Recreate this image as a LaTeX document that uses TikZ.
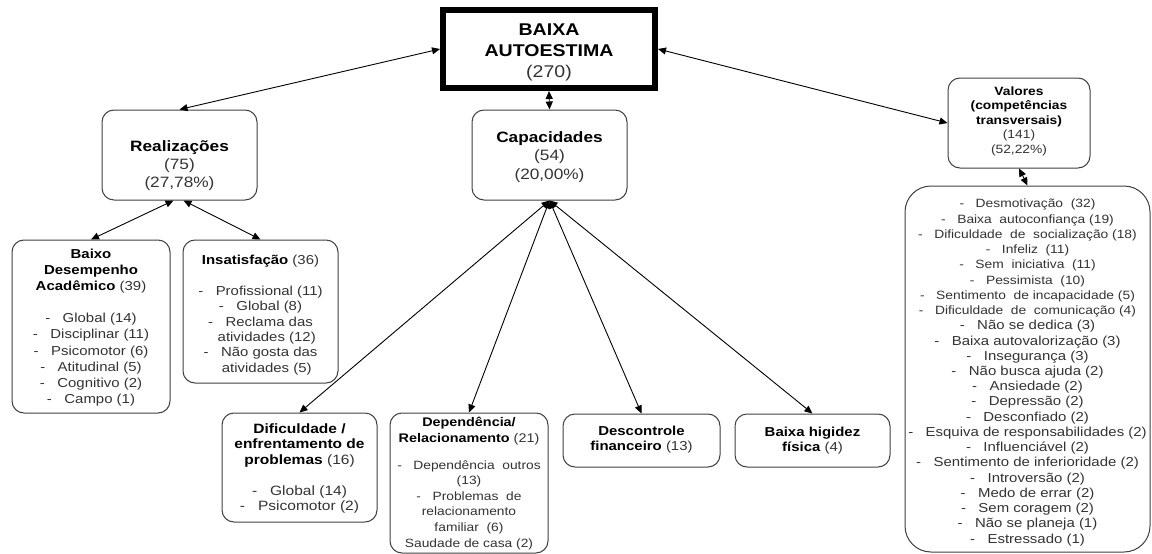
\documentclass[tikz,border=0pt]{standalone}
\usepackage{fontspec}
\setmainfont[FakeStretch=1.15]{Liberation Sans}
\usetikzlibrary{arrows.meta}
\tikzset{
 box/.style={draw=black!75, line width=1pt, rounded corners=12pt, fill=white, inner sep=0pt},
 bigbox/.style={box, rounded corners=26pt},
 txt/.style={align=center, inner sep=0pt, text=black!80},
 link/.style={line width=0.9pt, draw=black, {Triangle[length=8pt,width=7pt]}-{Triangle[length=8pt,width=7pt]}},
}
\newcommand\bb[1]{\textbf{\color{black}#1}}
\newcommand\smf{\fontsize{12}{15.23}\selectfont}
\newcommand\bgf{\fontsize{13}{15.23}\selectfont}
\begin{document}
\begin{tikzpicture}[x=1pt,y=-1pt]
\useasboundingbox (0,0) rectangle (1152,554);
% top
\node[draw=black, line width=6pt, minimum width=212pt, minimum height=78pt, inner sep=0pt, fill=white] (top) at (549,49) {};
\node[txt, font=\fontsize{17}{21}\selectfont] (topT) at (549,52) {\bb{BAIXA}\\\bb{AUTOESTIMA}\\(270)};
% level 1
\node[box, minimum width=155pt, minimum height=90pt] (real) at (179.5,155) {};
\node[txt, font=\fontsize{15}{18}\selectfont] (realT) at (179.5,166) {\bb{Realizações}\\(75)\\(27,78\%)};
\node[box, minimum width=155pt, minimum height=90pt] (cap) at (549.5,155) {};
\node[txt, font=\fontsize{15}{18.5}\selectfont] (capT) at (549.5,157) {\bb{Capacidades}\\(54)\\(20,00\%)};
\node[box, minimum width=142pt, minimum height=90pt] (val) at (1019,123) {};
\node[txt, font=\fontsize{12}{14.5}\selectfont] (valT) at (1019,121) {\bb{Valores}\\\bb{(competências}\\\bb{transversais)}\\(141)\\(52,22\%)};
% left branch
\node[box, minimum width=158pt, minimum height=173pt] (baixo) at (91,326.5) {};
\node[txt, font=\fontsize{13}{16.1}\selectfont] (baixoT) at (91,327.5) {\bb{Baixo}\\\bb{Desempenho}\\\bb{Acadêmico} (39)\\[16.1pt]-\ \ \ Global (14)\\-\ \ \ Disciplinar (11)\\-\ \ \ Psicomotor (6)\\-\ \ \ Atitudinal (5)\\-\ \ \ Cognitivo (2)\\-\ \ \ Campo (1)};
\node[box, minimum width=155pt, minimum height=143pt] (insat) at (260.5,311.5) {};
\node[txt, font=\fontsize{13}{15.4}\selectfont] (insatT) at (260.5,315) {\bb{Insatisfação} (36)\\[15.4pt]-\ \ \ Profissional (11)\\-\ \ \ Global (8)\\-\ \ \ Reclama das\\\ \ \ atividades (12)\\-\ \ \ Não gosta das\\\ \ \ atividades (5)};
% capacidades children
\node[box, minimum width=155pt, minimum height=109pt] (dif) at (299.5,467.5) {};
\node[txt, font=\fontsize{13.5}{15.4}\selectfont] (difT) at (299.5,468.5) {\bb{Dificuldade /}\\\bb{enfrentamento de}\\\bb{problemas} (16)\\[15.4pt]-\ \ \ Global (14)\\-\ \ \ Psicomotor (2)};
\node[box, minimum width=158pt, minimum height=140pt] (dep) at (469,483) {};
\node[txt, font=\fontsize{12.5}{15.6}\selectfont] (depT) at (469,483.5) {\bb{Dependência/}\\\bb{Relacionamento} (21)\\[11pt]{\fontsize{12}{15.4}\selectfont -\ \ \ Dependência\ \ outros}\\{\fontsize{12}{15.4}\selectfont (13)}\\{\fontsize{12}{15.4}\selectfont -\ \ \ Problemas\ \ de}\\{\fontsize{12}{15.4}\selectfont relacionamento}\\{\fontsize{12}{15.4}\selectfont familiar\ \ (6)}\\{\fontsize{12}{15.4}\selectfont Saudade\ de\ casa (2)}};
\node[box, minimum width=157pt, minimum height=53pt] (desc) at (641.5,440.5) {};
\node[txt, font=\fontsize{13}{15}\selectfont] (descT) at (641.5,439.5) {\bb{Descontrole}\\\bb{financeiro} (13)};
\node[box, minimum width=155pt, minimum height=53pt] (hig) at (812.5,440.5) {};
\node[txt, font=\fontsize{13}{15}\selectfont] (higT) at (812.5,440.5) {\bb{Baixa higidez}\\\bb{física} (4)};
% valores list
\node[bigbox, minimum width=245pt, minimum height=366pt] (list) at (1027.5,369) {};
\node[txt, font=\bgf] (listT) at (1027.5,372.5) {%
{\smf -\ \ \ Desmotivação\ \ (32)}\\
{\smf -\ \ \ Baixa\ \ autoconfiança (19)}\\
{\smf -\ \ \ Dificuldade\ \ de\ \ socialização (18)}\\
{\smf -\ \ \ Infeliz\ \ (11)}\\
{\smf -\ \ \ Sem\ \ iniciativa\ \ (11)}\\
{\smf -\ \ \ Pessimista\ \ (10)}\\
{\smf -\ \ \ Sentimento\ \ de incapacidade (5)}\\
{\smf -\ \ \ Dificuldade\ \ de\ \ comunicação (4)}\\
-\ \ \ Não se dedica (3)\\
-\ \ \ Baixa autovalorização (3)\\
-\ \ \ Insegurança (3)\\
-\ \ \ Não busca ajuda (2)\\
-\ \ \ Ansiedade (2)\\
-\ \ \ Depressão (2)\\
-\ \ \ Desconfiado (2)\\
-\ \ \ Esquiva de responsabilidades (2)\\
-\ \ \ Influenciável (2)\\
-\ \ \ Sentimento de inferioridade (2)\\
-\ \ \ Introversão (2)\\
-\ \ \ Medo de errar (2)\\
-\ \ \ Sem coragem (2)\\
-\ \ \ Não se planeja (1)\\
-\ \ \ Estressado (1)};
% connectors
\draw[link] (top.west) -- (real.north);
\draw[link] (top.east) -- (val.west);
\draw[link] (top.south) -- (cap.north);
\draw[link] ([xshift=-6pt]real.south) -- (baixo.north);
\draw[link] ([xshift=4pt]real.south) -- (insat.north);
\draw[link] (cap.south) -- (dif.north);
\draw[link] (cap.south) -- (dep.north);
\draw[link] (cap.south) -- (desc.north);
\draw[link] (cap.south) -- (hig.north);
\draw[link] (val.south) -- (list.north);
\end{tikzpicture}
\end{document}
